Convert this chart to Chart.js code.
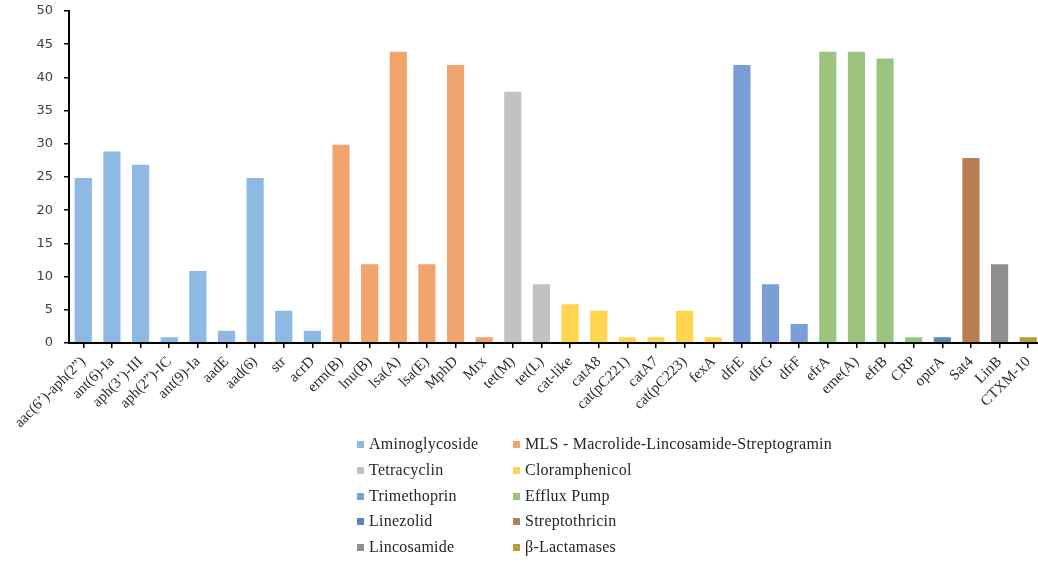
<!DOCTYPE html>
<html>
<head>
<meta charset="utf-8">
<script src="https://cdn.jsdelivr.net/npm/chart.js@4/dist/chart.umd.min.js"></script>
<style>
  html, body { margin: 0; padding: 0; background: #fff; overflow: hidden; }
  #wrap { position: absolute; left: 0; top: 0; width: 1046px; height: 562px; }
</style>
</head>
<body>
<div id="wrap"><canvas id="c" width="1046" height="562"></canvas></div>
<script>
// Resistance genes (x categories)
const genes = [
  "aac(6\u2019)-aph(2\u201d)", "ant(6)-Ia", "aph(3\u2019)-III", "aph(2\u201d)-IC", "ant(9)-Ia",
  "aadE", "aad(6)", "str", "acrD",
  "erm(B)", "lnu(B)", "lsa(A)", "lsa(E)", "MphD", "Mrx",
  "tet(M)", "tet(L)",
  "cat-like", "catA8", "cat(pC221)", "catA7", "cat(pC223)", "fexA",
  "dfrE", "dfrG", "dfrF",
  "efrA", "eme(A)", "efrB", "CRP",
  "optrA", "Sat4", "LinB", "CTXM-10"
];

// Number of isolates carrying each gene
const counts = [
  25, 29, 27, 1, 11, 2, 25, 5, 2,
  30, 12, 44, 12, 42, 1,
  38, 9,
  6, 5, 1, 1, 5, 1,
  42, 9, 3,
  44, 44, 43, 1,
  1, 28, 12, 1
];

// Antibiotic class of each gene (index into classNames)
const classOf = [
  0, 0, 0, 0, 0, 0, 0, 0, 0,
  1, 1, 1, 1, 1, 1,
  2, 2,
  3, 3, 3, 3, 3, 3,
  4, 4, 4,
  5, 5, 5, 5,
  6, 7, 8, 9
];

const classNames = [
  "Aminoglycoside", "MLS - Macrolide-Lincosamide-Streptogramin",
  "Tetracyclin", "Cloramphenicol",
  "Trimethoprin", "Efflux Pump",
  "Linezolid", "Streptothricin",
  "Lincosamide", "\u03b2-Lactamases"
];

const classColors = [
  "#8DB9E2", "#F1A46D", "#C2C2C2", "#FFD54F", "#7B9ED8",
  "#9DC47F", "#5B87B4", "#BA7D53", "#8F8F8F", "#B99A3C"
];

const yTicks = [0, 5, 10, 15, 20, 25, 30, 35, 40, 45, 50];

// One dataset per class; bars are not grouped so each occupies the full slot
const datasets = classNames.map((name, k) => ({
  label: name,
  data: counts.map((v, i) => (classOf[i] === k ? v : null)),
  backgroundColor: classColors[k],
  borderColor: "rgba(255,255,255,0.45)",
  borderWidth: 1,
  grouped: false,
  barPercentage: 0.67,
  categoryPercentage: 1.0
}));

// Two-column legend drawn below the axis labels
const legendColumns = {
  id: "legendColumns",
  afterDraw(chart) {
    const ctx = chart.ctx;
    const colX = [357, 513];
    const rowY = [445, 471, 497, 522, 548];
    ctx.save();
    ctx.font = "16px 'Liberation Serif'";
    ctx.letterSpacing = "0.25px";
    ctx.textBaseline = "middle";
    ctx.textAlign = "left";
    classNames.forEach((name, k) => {
      const x = colX[k % 2];
      const y = rowY[Math.floor(k / 2)];
      ctx.fillStyle = classColors[k];
      ctx.fillRect(x, y - 4, 7, 7);
      ctx.fillStyle = "#262626";
      ctx.fillText(name, x + 12, y);
    });
    ctx.restore();
  }
};

new Chart(document.getElementById("c"), {
  type: "bar",
  data: { labels: genes, datasets: datasets },
  plugins: [legendColumns],
  options: {
    responsive: false,
    animation: false,
    layout: { padding: { top: 11, right: 3, bottom: 0, left: 0 } },
    plugins: {
      legend: { display: false },
      tooltip: { enabled: false }
    },
    scales: {
      x: {
        offset: true,
        grid: {
          display: true, drawOnChartArea: false, drawTicks: true,
          tickLength: 5, color: "#000", lineWidth: 1.5, offset: false
        },
        border: { display: true, color: "#000", width: 2 },
        ticks: {
          autoSkip: false, minRotation: 45, maxRotation: 45, padding: 5,
          color: "#2b2b2b",
          font: { family: "'Liberation Serif'", size: 15 }
        },
        afterFit(scale) { scale.height = 219; }
      },
      y: {
        min: 0, max: 50,
        afterBuildTicks(scale) { scale.ticks = yTicks.map(v => ({ value: v })); },
        grid: {
          display: true, drawOnChartArea: false, drawTicks: true,
          tickLength: 5, color: "#000", lineWidth: 1.5
        },
        border: { display: true, color: "#000", width: 2 },
        ticks: {
          padding: 11, color: "#404040",
          font: { family: "'DejaVu Sans'", size: 13 }
        },
        afterFit(scale) {
          scale.width = 69;
          scale.paddingTop = 0;
          scale.paddingBottom = 0;
        }
      }
    }
  }
});
</script>
</body>
</html>
